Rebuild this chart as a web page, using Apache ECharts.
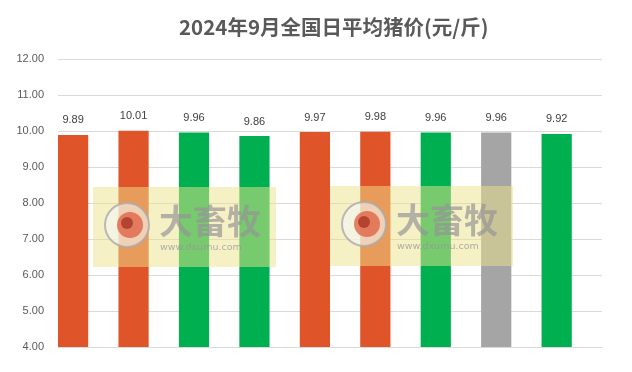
<!DOCTYPE html>
<html>
<head>
<meta charset="utf-8">
<script src="https://cdn.jsdelivr.net/npm/echarts@6/dist/echarts.min.js"></script>
<style>
  html, body { margin: 0; padding: 0; background: #fff; }
  #chart { width: 632px; height: 372px; }
</style>
</head>
<body>
<div id="chart"></div>
<script>
const days = ['1', '2', '3', '4', '5', '6', '7', '8', '9'];
const prices = [9.89, 10.01, 9.96, 9.86, 9.97, 9.98, 9.96, 9.96, 9.92];
// 涨=红, 跌=绿, 平=灰
const trend = ['up', 'up', 'down', 'down', 'up', 'up', 'down', 'flat', 'down'];
const yTicks = ['4.00', '5.00', '6.00', '7.00', '8.00', '9.00', '10.00', '11.00', '12.00'];

const COLORS = { up: '#E0542A', down: '#00B050', flat: '#A5A5A5' };

// watermark block (decoration only), drawn over the bars
function watermark(x, y) {
  const z = 100;
  return {
    type: 'group',
    x: x,
    y: y,
    children: [
      { type: 'rect', z: z, shape: { x: 0, y: 0, width: 183, height: 80 },
        style: { fill: 'rgba(238,228,140,0.5)' } },
      { type: 'circle', z: z + 1, shape: { cx: 34, cy: 38, r: 22 },
        style: { fill: 'rgba(245,245,245,0.6)', stroke: 'rgba(170,170,170,0.8)', lineWidth: 2 } },
      { type: 'circle', z: z + 2, shape: { cx: 37, cy: 38, r: 13 },
        style: { fill: 'rgba(224,100,70,0.8)' } },
      { type: 'circle', z: z + 3, shape: { cx: 34, cy: 36, r: 6 },
        style: { fill: 'rgba(170,60,40,0.85)' } },
      { type: 'text', z: z + 4, x: 66, y: 17,
        style: { text: '大畜牧', fill: 'rgba(150,150,150,0.7)', fontSize: 34, fontWeight: 'bold',
          fontFamily: 'Noto Sans CJK SC' } },
      { type: 'text', z: z + 4, x: 67, y: 56,
        style: { text: 'www.dxumu.com', fill: 'rgba(150,150,150,0.75)', fontSize: 9.5,
          fontFamily: 'DejaVu Sans' } }
    ]
  };
}

const chart = echarts.init(document.getElementById('chart'));
chart.setOption({
  animation: false,
  backgroundColor: '#fff',
  title: {
    text: '2024年9月全国日平均猪价(元/斤)',
    left: 174,
    top: 12,
    textStyle: { fontFamily: 'Noto Sans CJK SC', fontSize: 20.5, fontWeight: 'bold', color: '#595959' }
  },
  grid: { left: 58, right: 30, top: 59, bottom: 25, containLabel: false },
  xAxis: {
    type: 'category',
    data: days,
    axisLine: { lineStyle: { color: '#D9D9D9', width: 1 } },
    axisTick: { show: false },
    axisLabel: { show: false }
  },
  yAxis: {
    type: 'value',
    min: 4,
    max: 12,
    interval: 1,
    axisLine: { show: false },
    axisTick: { show: false },
    splitLine: { lineStyle: { color: '#D9D9D9', width: 1 } },
    axisLabel: {
      margin: 14,
      color: '#595959',
      fontSize: 11,
      fontFamily: 'Liberation Sans',
      formatter: (v) => yTicks[Math.round(v) - 4]
    }
  },
  series: [
    {
      type: 'bar',
      barGap: '0%',
      barCategoryGap: '0%',
      data: prices.map((v, i) => ({ value: v, itemStyle: { color: COLORS[trend[i]] } })),
      label: {
        show: true,
        position: 'top',
        distance: 9,
        color: '#404040',
        fontSize: 11,
        fontFamily: 'Liberation Sans',
        formatter: (p) => p.value.toFixed(2)
      }
    },
    {
      // empty second series, keeps each bar in the left half of its slot
      type: 'bar',
      data: prices.map(() => '-')
    }
  ],
  graphic: [watermark(93, 187), watermark(330, 186)]
});
</script>
</body>
</html>
